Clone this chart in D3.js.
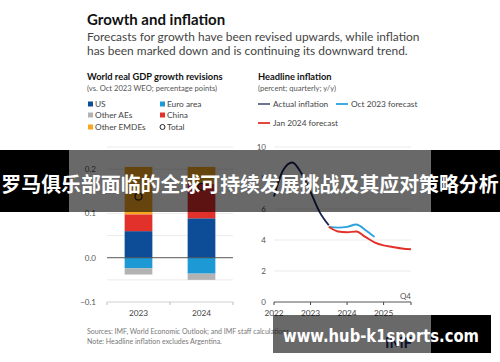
<!DOCTYPE html>
<html>
<head>
<meta charset="utf-8">
<script src="https://cdn.jsdelivr.net/npm/d3@7"></script>
<style>
  body { margin: 0; background: #fff; }
  svg { display: block; font-family: Lato, "Open Sans", sans-serif; }
</style>
</head>
<body>
<div id="chart"></div>
<script>
// Left panel: GDP growth revisions (percentage points)
const revYears = ['2023', '2024'];
const usVals = [0.06, 0.089];
const euroVals = [-0.024, -0.036];
const otherAEVals = [-0.014, -0.014];
const chinaVals = [0.038, 0.078];
const otherEMDEVals = [0.107, 0.038];
const totalVals = [0.138, 0.16];
const revTicks = [0.2, 0.1, 0.0, -0.1];

// Right panel: headline inflation, quarterly index 0 = 2022Q1
const actualInfl = [6.8, 8.5, 9.0, 8.3, 7.1, 5.8, 4.95];
const oct2023Fc = [4.85, 4.8, 4.85, 5.0, 4.65, 4.2];
const jan2024Fc = [4.85, 4.55, 4.5, 4.55, 4.2, 3.85, 3.65, 3.55, 3.45, 3.4];
const fcStart = 6;
const yearTickLabels = ['2022', '2023', '2024', '2025'];
const inflTicks = [10, 8, 6, 4, 2, 0];

const W = 500, H = 362;
const svg = d3.select('#chart').append('svg')
  .attr('width', W)
  .attr('height', H);

svg.append('rect').attr('width', W).attr('height', H).attr('fill', '#fff');

// Titles
svg.append('text').attr('x', 87).attr('y', 25)
  .style('font-size', '15px').style('font-weight', 'bold').attr('fill', '#111')
  .text('Growth and inflation');
svg.append('text').attr('x', 87).attr('y', 41)
  .style('font-size', '11.95px').attr('fill', '#444')
  .text('Forecasts for growth have been revised upwards, while inflation');
svg.append('text').attr('x', 87).attr('y', 55)
  .style('font-size', '11.95px').attr('fill', '#444')
  .text('has been marked down and is continuing its downward trend.');

// ---------- left panel ----------
svg.append('text').attr('x', 87).attr('y', 80)
  .style('font-size', '9.3px').style('font-weight', 'bold').attr('fill', '#111')
  .text('World real GDP growth revisions');
svg.append('text').attr('x', 87).attr('y', 91)
  .style('font-size', '7.6px').attr('fill', '#555')
  .text('(vs. Oct 2023 WEO; percentage points)');

const colors = {
  US: '#0d4c96',
  Euro: '#1d9ad6',
  OtherAEs: '#b3b3b3',
  China: '#e2302a',
  OtherEMDEs: '#f5a623'
};
const legendItems = [
  { key: 'US', label: 'US', x: 88, y: 104 },
  { key: 'Euro', label: 'Euro area', x: 160, y: 104 },
  { key: 'OtherAEs', label: 'Other AEs', x: 88, y: 115 },
  { key: 'China', label: 'China', x: 160, y: 115 },
  { key: 'OtherEMDEs', label: 'Other EMDEs', x: 88, y: 127 },
  { key: 'Total', label: 'Total', x: 160, y: 127 }
];
const lg = svg.selectAll('.lg').data(legendItems).enter().append('g')
  .attr('transform', d => `translate(${d.x},${d.y})`);
lg.filter(d => d.key !== 'Total').append('rect')
  .attr('x', 0).attr('y', -2.5).attr('width', 5).attr('height', 5)
  .attr('fill', d => colors[d.key]);
lg.filter(d => d.key === 'Total').append('circle')
  .attr('cx', 2.5).attr('cy', 0).attr('r', 2.5)
  .attr('fill', 'none').attr('stroke', '#222').attr('stroke-width', 1);
lg.append('text').attr('x', 7).attr('y', 0).attr('dy', '0.35em')
  .style('font-size', '8.3px').attr('fill', '#444')
  .text(d => d.label);

const revData = revYears.map((y, i) => ({
  year: y,
  US: usVals[i], Euro: euroVals[i], OtherAEs: otherAEVals[i],
  China: chinaVals[i], OtherEMDEs: otherEMDEVals[i], total: totalVals[i]
}));

const xRev = d3.scaleBand().domain(revYears).range([107, 233]);
const yRev = d3.scaleLinear().domain([-0.1, 0.25]).range([302, 147]);

// gridlines every 0.05
const gridVals = d3.range(-0.05, 0.2501, 0.05).filter(v => Math.abs(v) > 1e-6);
svg.append('g').selectAll('line').data(gridVals).enter().append('line')
  .attr('x1', 107).attr('x2', 233)
  .attr('y1', d => yRev(d)).attr('y2', d => yRev(d))
  .attr('stroke', '#e6e6e6').attr('stroke-width', 0.8);

const stack = d3.stack()
  .keys(['US', 'Euro', 'OtherAEs', 'China', 'OtherEMDEs'])
  .offset(d3.stackOffsetDiverging);
const series = stack(revData);
const barW = xRev.bandwidth() * 0.44;

svg.append('g').selectAll('g').data(series).enter().append('g')
  .attr('fill', d => colors[d.key])
  .selectAll('rect').data(d => d).enter().append('rect')
  .attr('x', d => xRev(d.data.year) + (xRev.bandwidth() - barW) / 2)
  .attr('width', barW)
  .attr('y', d => yRev(Math.max(d[0], d[1])))
  .attr('height', d => Math.abs(yRev(d[0]) - yRev(d[1])));

// zero line
svg.append('line').attr('x1', 107).attr('x2', 233)
  .attr('y1', yRev(0)).attr('y2', yRev(0))
  .attr('stroke', '#444').attr('stroke-width', 0.9);

// totals
svg.append('g').selectAll('circle').data(revData).enter().append('circle')
  .attr('cx', d => xRev(d.year) + xRev.bandwidth() / 2)
  .attr('cy', d => yRev(d.total))
  .attr('r', 3.5).attr('fill', 'none').attr('stroke', '#222').attr('stroke-width', 1.2);

// left y labels
svg.append('g').selectAll('text').data(revTicks).enter().append('text')
  .attr('x', 96).attr('y', d => yRev(d)).attr('dy', '0.35em')
  .attr('text-anchor', 'end')
  .style('font-size', '8px').attr('fill', '#555')
  .text(d => d3.format('.1f')(d));

// left x axis
const xRevAxis = svg.append('g').attr('transform', `translate(0,${yRev(-0.1)})`);
xRevAxis.append('line').attr('x1', 107).attr('x2', 233)
  .attr('stroke', '#ccc').attr('stroke-width', 0.9);
xRevAxis.selectAll('.tk').data([107, xRev('2024'), 233]).enter().append('line')
  .attr('x1', d => d).attr('x2', d => d).attr('y1', 0).attr('y2', 3)
  .attr('stroke', '#bbb');
xRevAxis.selectAll('text').data(revYears).enter().append('text')
  .attr('x', d => xRev(d) + xRev.bandwidth() / 2).attr('y', 14)
  .attr('text-anchor', 'middle')
  .style('font-size', '8.3px').attr('fill', '#444')
  .text(d => d);

// ---------- right panel ----------
svg.append('text').attr('x', 258).attr('y', 80)
  .style('font-size', '9.3px').style('font-weight', 'bold').attr('fill', '#111')
  .text('Headline inflation');
svg.append('text').attr('x', 258).attr('y', 91)
  .style('font-size', '7.6px').attr('fill', '#555')
  .text('(percent; quarterly; y/y)');

const lineColors = { actual: '#1b2454', oct: '#2aa2de', jan: '#e2302a' };
const lineLegend = [
  { key: 'actual', label: 'Actual inflation', x: 258, y: 104 },
  { key: 'oct', label: 'Oct 2023 forecast', x: 336, y: 104 },
  { key: 'jan', label: 'Jan 2024 forecast', x: 258, y: 123 }
];
const ll = svg.selectAll('.ll').data(lineLegend).enter().append('g')
  .attr('transform', d => `translate(${d.x},${d.y})`);
ll.append('line').attr('x1', 0).attr('x2', 12).attr('y1', 0).attr('y2', 0)
  .attr('stroke', d => d.key === 'actual' ? '#5d6785' : lineColors[d.key])
  .attr('stroke-width', 1.8);
ll.append('text').attr('x', 15).attr('y', 0).attr('dy', '0.35em')
  .style('font-size', '8.3px').attr('fill', '#444')
  .text(d => d.label);

const xQ = d3.scaleLinear().domain([0, 15]).range([274, 411]);
const yInf = d3.scaleLinear().domain([0, 10]).range([302, 147]);

svg.append('g').selectAll('line').data(inflTicks.filter(v => v > 0)).enter().append('line')
  .attr('x1', 274).attr('x2', 411)
  .attr('y1', d => yInf(d)).attr('y2', d => yInf(d))
  .attr('stroke', '#e6e6e6').attr('stroke-width', 0.8);

svg.append('g').selectAll('text').data(inflTicks).enter().append('text')
  .attr('x', 266).attr('y', d => yInf(d)).attr('dy', '0.35em')
  .attr('text-anchor', 'end')
  .style('font-size', '8px').attr('fill', '#555')
  .text(d => d);

const line = d3.line()
  .x(d => xQ(d.q))
  .y(d => yInf(d.v))
  .curve(d3.curveMonotoneX);

const actualPts = actualInfl.map((v, i) => ({ q: i, v }));
const octPts = oct2023Fc.map((v, i) => ({ q: fcStart + i, v }));
const janPts = jan2024Fc.map((v, i) => ({ q: fcStart + i, v }));

svg.append('path').datum(octPts).attr('d', line)
  .attr('fill', 'none').attr('stroke', lineColors.oct).attr('stroke-width', 1.9);
svg.append('path').datum(janPts).attr('d', line)
  .attr('fill', 'none').attr('stroke', lineColors.jan).attr('stroke-width', 1.9);
svg.append('path').datum(actualPts).attr('d', line)
  .attr('fill', 'none').attr('stroke', lineColors.actual).attr('stroke-width', 1.9);

// right x axis
const xQAxis = svg.append('g').attr('transform', `translate(0,${yInf(0)})`);
xQAxis.append('line').attr('x1', 274).attr('x2', 411)
  .attr('stroke', '#444').attr('stroke-width', 0.9);
xQAxis.selectAll('.tk').data([0, 4, 8, 12, 15]).enter().append('line')
  .attr('x1', d => xQ(d)).attr('x2', d => xQ(d)).attr('y1', 0).attr('y2', 3)
  .attr('stroke', '#444');
xQAxis.selectAll('.yl').data(yearTickLabels).enter().append('text')
  .attr('x', (d, i) => xQ(i * 4)).attr('y', 14)
  .attr('text-anchor', 'middle')
  .style('font-size', '8.3px').attr('fill', '#444')
  .text(d => d);
xQAxis.append('text').attr('x', xQ(15)).attr('y', -3)
  .attr('text-anchor', 'end')
  .style('font-size', '8px').attr('fill', '#555')
  .text('Q4');

// footer
svg.append('text').attr('x', 87).attr('y', 334)
  .style('font-size', '7px').attr('fill', '#777')
  .text('Sources: IMF, World Economic Outlook; and IMF staff calculations.');
svg.append('text').attr('x', 87).attr('y', 344)
  .style('font-size', '7px').attr('fill', '#777')
  .text('Note: Headline inflation excludes Argentina.');
svg.append('text').attr('x', 385).attr('y', 348)
  .style('font-size', '15px').style('font-weight', 'bold').attr('fill', '#1b2c6b')
  .text('IMF');

// ---------- overlay banners ----------
svg.append('rect').attr('x', 0).attr('y', 150).attr('width', 69).attr('height', 62).attr('fill', '#000');
svg.append('rect').attr('x', 69).attr('y', 150).attr('width', 362).attr('height', 62).attr('fill', 'rgba(0,0,0,0.59)');
svg.append('rect').attr('x', 431).attr('y', 150).attr('width', 69).attr('height', 62).attr('fill', '#000');
svg.append('text').attr('x', 250).attr('y', 183)
  .attr('text-anchor', 'middle').attr('dominant-baseline', 'central')
  .style('font-family', '"Noto Sans CJK SC", sans-serif')
  .style('font-size', '19.9px').style('font-weight', 'bold').attr('fill', '#fff')
  .text('罗马俱乐部面临的全球可持续发展挑战及其应对策略分析');

svg.append('rect').attr('x', 273).attr('y', 315).attr('width', 158).attr('height', 38).attr('fill', 'rgba(0,0,0,0.59)');
svg.append('rect').attr('x', 431).attr('y', 315).attr('width', 60).attr('height', 38).attr('fill', '#000');
svg.append('text').attr('x', 283).attr('y', 342)
  .attr('textLength', 196).attr('lengthAdjust', 'spacingAndGlyphs')
  .style('font-family', '"DejaVu Sans", sans-serif')
  .style('font-size', '18px').style('font-weight', 'bold').attr('fill', '#fff')
  .text('www.hub-k1sports.com');
</script>
</body>
</html>
